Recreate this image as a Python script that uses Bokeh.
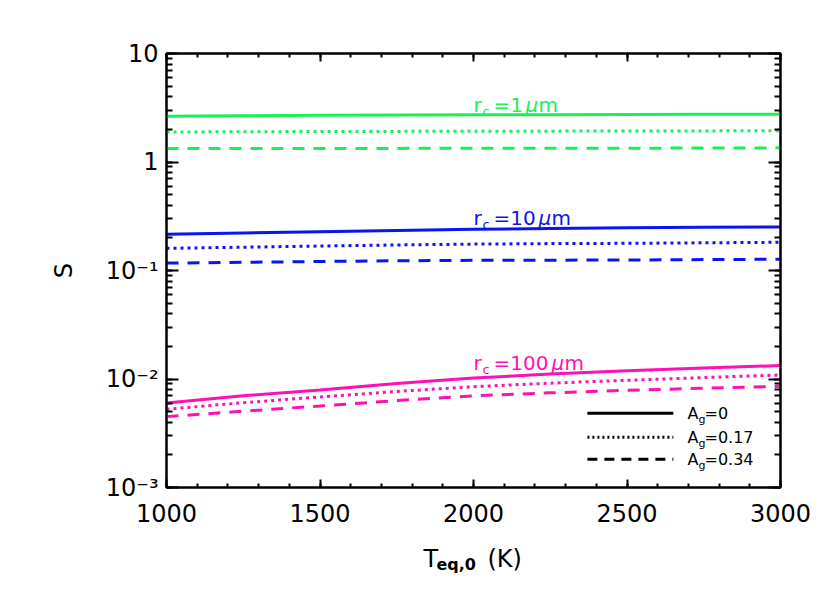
import numpy as np
from bokeh.plotting import figure
from bokeh.layouts import column
from bokeh.models import (Range1d, LinearAxis, LogAxis, LogTicker, BasicTicker,
                          CustomJSTickFormatter, Label)
from bokeh.embed import file_html
from bokeh.resources import INLINE

# ---------------- data ----------------
T_eq = [1000, 1250, 1500, 1750, 2000, 2250, 2500, 2750, 3000]

green_A0 = [2.64, 2.67, 2.69, 2.71, 2.72, 2.73, 2.74, 2.75, 2.76]
green_A017 = [1.89, 1.90, 1.91, 1.915, 1.92, 1.925, 1.93, 1.935, 1.94]
green_A034 = [1.33, 1.33, 1.33, 1.335, 1.34, 1.34, 1.34, 1.345, 1.35]

blue_A0 = [0.216, 0.222, 0.228, 0.234, 0.240, 0.244, 0.248, 0.250, 0.252]
blue_A017 = [0.160, 0.164, 0.168, 0.172, 0.175, 0.177, 0.178, 0.180, 0.182]
blue_A034 = [0.117, 0.119, 0.121, 0.123, 0.124, 0.1245, 0.125, 0.126, 0.127]

pink_A0 = [0.0060, 0.0070, 0.0079, 0.0091, 0.0102, 0.0111, 0.0119, 0.0126, 0.0133]
pink_A017 = [0.00526, 0.00605, 0.00683, 0.00768, 0.00850, 0.00915, 0.00973, 0.0103, 0.0109]
pink_A034 = [0.00450, 0.00505, 0.00564, 0.00632, 0.00700, 0.00745, 0.00787, 0.00822, 0.00857]

radius_labels = ["1", "10", "100"]
albedo_labels = ["0", "0.17", "0.34"]

GREEN = "#18F058"
BLUE = "#0A14F0"
PINK = "#FF10B4"
FONT = "DejaVu Sans"

p = figure(width=814, height=532, output_backend="svg", toolbar_location=None,
           x_range=Range1d(1000, 3000), y_range=Range1d(1e-3, 10),
           y_axis_type="log", x_axis_location=None, y_axis_location=None)
p.min_border_left = 166
p.min_border_right = 34
p.min_border_top = 53
p.min_border_bottom = 45
p.background_fill_color = "white"
p.border_fill_color = "white"
p.outline_line_color = "black"
p.outline_line_width = 2
p.xgrid.visible = False
p.ygrid.visible = False

fmt = CustomJSTickFormatter(code="""
const e = Math.round(Math.log10(tick));
if (e == 0) return "1";
if (e == 1) return "10";
const sup = {"-":"\u207b","0":"\u2070","1":"\u00b9","2":"\u00b2","3":"\u00b3","4":"\u2074"};
return "10" + String(e).split("").map(c => sup[c]).join("");
""")

def style_axis(ax, major_in, minor_in, show_labels):
    ax.axis_line_color = "black"
    ax.axis_line_width = 2
    ax.major_tick_line_width = 2
    ax.minor_tick_line_width = 2
    ax.major_tick_in = major_in
    ax.major_tick_out = 0
    ax.minor_tick_in = minor_in
    ax.minor_tick_out = 0
    ax.major_label_text_font = FONT
    ax.major_label_text_font_size = "24px"
    ax.major_label_text_font_style = "normal"
    ax.major_label_text_color = "black"
    if not show_labels:
        ax.major_label_text_alpha = 0
        ax.major_label_text_font_size = "1px"

xb = LinearAxis(ticker=BasicTicker(desired_num_ticks=5, num_minor_ticks=5))
style_axis(xb, 8, 4, True)
xb.major_label_standoff = 16
p.add_layout(xb, "below")

xt = LinearAxis(ticker=BasicTicker(desired_num_ticks=5, num_minor_ticks=5))
style_axis(xt, 8, 4, False)
p.add_layout(xt, "above")

yl = LogAxis(ticker=LogTicker(num_minor_ticks=10), formatter=fmt)
style_axis(yl, 12, 6, True)
yl.major_label_standoff = 8
yl.axis_label = "S"
yl.axis_label_text_font = FONT
yl.axis_label_text_font_size = "24px"
yl.axis_label_text_font_style = "normal"
yl.axis_label_text_color = "black"
yl.axis_label_standoff = 25
p.add_layout(yl, "left")

yr = LogAxis(ticker=LogTicker(num_minor_ticks=10), formatter=fmt)
style_axis(yr, 12, 6, False)
p.add_layout(yr, "right")

series = [
    (green_A0, GREEN, "solid"), (green_A017, GREEN, "3 4"), (green_A034, GREEN, "12 9"),
    (blue_A0, BLUE, "solid"), (blue_A017, BLUE, "3 4"), (blue_A034, BLUE, "12 9"),
    (pink_A0, PINK, "solid"), (pink_A017, PINK, "3 4"), (pink_A034, PINK, "12 9"),
]
for ys, col, dash in series:
    p.line(T_eq, ys, line_color=col, line_width=3, line_dash=dash)

def lab(fig, x, y, text, color, size, xo=0, yo=0, style="normal", baseline="alphabetic"):
    fig.add_layout(Label(x=x, y=y, text=text, x_offset=xo, y_offset=yo,
                         text_color=color, text_font=FONT, text_font_size=size,
                         text_font_style=style, text_baseline=baseline,
                         text_align="left"))

# radius labels
label_y = [3.33, 0.303, 0.01395]
label_cols = [GREEN, BLUE, PINK]
mu_off = [52, 65, 78]
for rl, yv, col, mo in zip(radius_labels, label_y, label_cols, mu_off):
    lab(p, 2000, yv, "r", col, "20px")
    lab(p, 2000, yv, "c", col, "13px", xo=9, yo=-6)
    lab(p, 2000, yv, "=" + rl, col, "20px", xo=20)
    lab(p, 2000, yv, "\u03bc", col, "20px", xo=mo, style="italic")
    lab(p, 2000, yv, "m", col, "20px", xo=mo + 13)

# legend (albedo line styles)
leg_y = [0.00483, 0.0029, 0.00182]
leg_dash = ["solid", "2 3", "10 7"]
for al, yv, dash in zip(albedo_labels, leg_y, leg_dash):
    p.line([2371, 2651], [yv, yv], line_color="black", line_width=3, line_dash=dash)
    lab(p, 2697, yv, "A", "black", "16px", baseline="middle")
    lab(p, 2697, yv, "g", "black", "11px", xo=11, yo=-6, baseline="middle")
    lab(p, 2697, yv, "=" + al, "black", "16px", xo=17, baseline="middle")

# strip below the plot holding the x-axis title (with subscript)
p2 = figure(width=814, height=45, output_backend="svg", toolbar_location=None,
            x_range=p.x_range, y_range=Range1d(0, 45),
            x_axis_location=None, y_axis_location=None)
p2.min_border_left = 166
p2.min_border_right = 34
p2.min_border_top = 0
p2.min_border_bottom = 0
p2.outline_line_color = None
p2.background_fill_color = "white"
p2.border_fill_color = "white"
p2.xgrid.visible = False
p2.ygrid.visible = False
lab(p2, 1837, 19, "T", "black", "24px")
lab(p2, 1837, 19, "eq,0", "black", "16px", xo=13, yo=-6, style="bold")
lab(p2, 1837, 19, "(K)", "black", "24px", xo=64)

layout = column(p, p2, spacing=0)
open("out.html", "w").write(file_html(layout, INLINE))
